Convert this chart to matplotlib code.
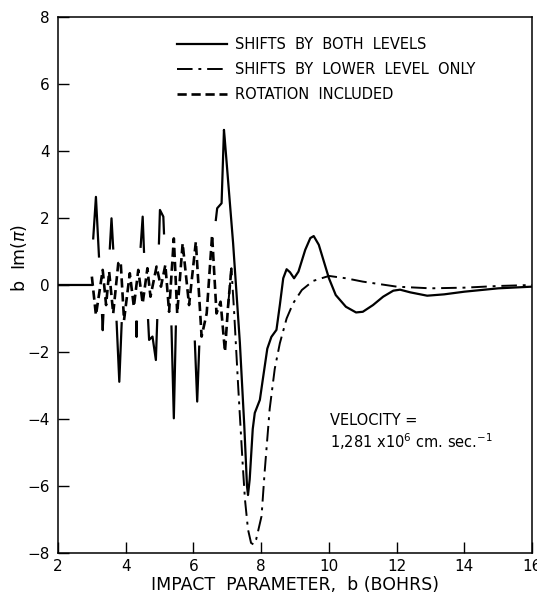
import numpy as np
import matplotlib
matplotlib.use("Agg")
import matplotlib.pyplot as plt

nan = np.nan

# shifts by both levels (solid); nan = pen lifted (curve hidden under the dashed one)
b_both = [2.0, 3.0, nan,
          3.04, 3.12, 3.21, nan,
          3.30, 3.32, 3.34, nan,
          3.53, 3.58, 3.63, nan,
          3.73, 3.81, 3.88, nan,
          4.31, 4.32, 4.33, nan,
          4.44, 4.50, 4.54, nan,
          4.66, 4.69, 4.79, 4.89, 4.93, nan,
          4.98, 5.01, 5.11, 5.13, nan,
          5.35, 5.42, 5.48, nan,
          6.04, 6.11, 6.17, nan,
          6.66, 6.70, 6.83, 6.90, 6.92, 7.17, 7.37, 7.50, 7.58, 7.61, 7.66,
          7.75, 7.81, 7.96, 8.05, 8.18, 8.30, 8.45, 8.55, 8.65, 8.75, 8.85,
          8.97, 9.10, 9.30, 9.45, 9.55, 9.70, 9.85, 10.0, 10.2, 10.5, 10.8,
          11.0, 11.3, 11.6, 11.9, 12.1, 12.4, 12.9, 13.4, 14.0, 15.0, 16.0]
y_both = [0.0, 0.0, nan,
          1.39, 2.63, 0.85, nan,
          -0.90, -1.35, -0.90, nan,
          1.09, 1.99, 1.09, nan,
          -1.10, -2.89, -1.14, nan,
          -1.10, -1.55, -1.10, nan,
          1.14, 2.04, 0.99, nan,
          -1.05, -1.64, -1.54, -2.24, -1.05, nan,
          1.24, 2.24, 2.04, 1.54, nan,
          -1.24, -3.98, -1.24, nan,
          -1.69, -3.48, -1.84, nan,
          1.94, 2.29, 2.44, 4.63, 4.40, 1.25, -1.73, -4.20, -6.00, -6.27, -5.80,
          -4.30, -3.82, -3.43, -2.80, -1.90, -1.55, -1.34, -0.60, 0.20, 0.47, 0.38,
          0.20, 0.40, 1.05, 1.40, 1.46, 1.20, 0.70, 0.20, -0.30, -0.65, -0.82,
          -0.80, -0.60, -0.35, -0.17, -0.14, -0.22, -0.32, -0.28, -0.20, -0.10, -0.05]

# shifts by lower level only (dash-dot)
b_lower = [7.02, 7.12, 7.20, 7.32, 7.45, 7.52, 7.61, 7.70, 7.78, 7.85, 8.01,
           8.10, 8.25, 8.40, 8.55, 8.75, 8.94, 9.20, 9.53, 10.0, 10.5, 11.0,
           12.0, 13.0, 14.0, 15.0, 16.0]
y_lower = [-0.65, 0.50, -0.80, -3.03, -5.30, -6.40, -7.30, -7.70, -7.75, -7.60, -6.90,
           -5.60, -3.70, -2.50, -1.74, -1.00, -0.55, -0.15, 0.12, 0.27, 0.20, 0.10,
           -0.05, -0.10, -0.08, -0.03, 0.0]

# rotation included (dashed)
b_rot = [3.0, 3.12, 3.32, 3.42, 3.51, 3.63, 3.78, 3.85, 3.95, 4.12, 4.24, 4.37,
         4.50, 4.64, 4.73, 4.91, 5.04, 5.17, 5.28, 5.42, 5.52, 5.68, 5.87, 6.07,
         6.24, 6.39, 6.55, 6.68, 6.80, 6.93, 7.02, 7.12]
y_rot = [0.25, -0.90, 0.45, -0.60, 0.40, -0.85, 0.65, 0.70, -1.05, 0.35, -0.65, 0.45,
         -0.55, 0.50, -0.35, 0.55, -0.05, 0.60, -0.80, 1.39, -0.85, 1.24, -0.60, 1.29,
         -1.54, -0.85, 1.49, -0.85, -0.50, -1.99, -0.65, 0.50]

labels = ["SHIFTS  BY  BOTH  LEVELS",
          "SHIFTS  BY  LOWER  LEVEL  ONLY",
          "ROTATION  INCLUDED"]

fig = plt.figure(figsize=(5.37, 5.98), dpi=100)
ax = fig.add_axes([0.108, 0.0753, 0.883, 0.8963])

ax.plot(b_both, y_both, color="black", lw=1.6, label=labels[0])
ax.plot(b_lower, y_lower, color="black", lw=1.4, linestyle=(0, (8, 3, 1.5, 3)), label=labels[1])
ax.plot(b_rot, y_rot, color="black", lw=1.9, linestyle=(0, (3.5, 1.8)), label=labels[2])

ax.set_xlim(2, 16)
ax.set_ylim(-8, 8)
ax.set_xticks(range(2, 17, 2))
ax.set_yticks(range(-8, 9, 2))
ax.tick_params(direction="in", length=8, width=1, labelsize=11)
ax.tick_params(axis="x", pad=4)
ax.tick_params(axis="y", pad=6)
for s in ax.spines.values():
    s.set_linewidth(1.1)

ax.set_xlabel("IMPACT  PARAMETER,  b (BOHRS)", fontsize=12.5, labelpad=2)
ax.set_ylabel("b  Im($\\pi$)", fontsize=12.5)
ax.yaxis.set_label_coords(-0.062, 0.55)

ax.legend(loc="upper left", bbox_to_anchor=(0.251, 0.962), frameon=False,
          fontsize=10.5, handlelength=3.4, handletextpad=0.6, borderpad=0,
          borderaxespad=0, labelspacing=0.68)

ax.text(10.02, -4.06, "VELOCITY =", fontsize=10.5, va="center", ha="left")
ax.text(10.02, -4.69, "1,281 x10$^{6}$ cm. sec.$^{-1}$", fontsize=10.5, va="center", ha="left")

fig.savefig("out.png", dpi=100)
